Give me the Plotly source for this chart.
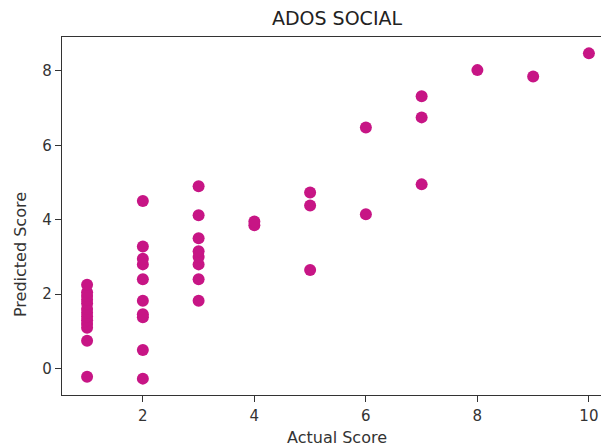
import plotly.graph_objects as go

actual = [1]*13 + [2]*10 + [3]*8 + [4]*2 + [5]*3 + [6]*2 + [7]*3 + [8, 9, 10]
predicted = [
    -0.22, 0.75, 1.1, 1.2, 1.3, 1.4, 1.5, 1.6, 1.75, 1.85, 1.95, 2.05, 2.25,
    -0.27, 0.5, 1.38, 1.46, 1.82, 2.4, 2.8, 2.95, 3.28, 4.5,
    1.82, 2.4, 2.8, 3.0, 3.15, 3.5, 4.12, 4.9,
    3.85, 3.95,
    2.65, 4.38, 4.73,
    4.15, 6.48,
    4.95, 6.75, 7.32,
    8.02, 7.85, 8.47,
]
x_ticks = [2, 4, 6, 8, 10]
y_ticks = [0, 2, 4, 6, 8]

# page body has an 8px margin, so the figure is laid out 8px up/left
L, R, T, B = 54, 3, 29, 61
W, H = 609, 448
pw, ph = W - L - R, H - T - B

fig = go.Figure(go.Scatter(
    x=actual, y=predicted, mode="markers",
    marker=dict(color="#c71585", size=12, line=dict(width=0)),
))

axis_common = dict(
    showgrid=False, zeroline=False, showline=True, linecolor="#333",
    linewidth=1.2, ticks="outside", ticklen=6, tickcolor="#333", tickwidth=1,
    automargin=False,
    tickfont=dict(family="DejaVu Sans", size=15, color="#333"),
)
fig.update_layout(
    width=W, height=H,
    margin=dict(l=L, r=R, t=T, b=B, autoexpand=False),
    paper_bgcolor="white", plot_bgcolor="white",
    showlegend=False,
    title=dict(text="ADOS SOCIAL", x=329 / W, xanchor="center",
               y=1 - 10 / H, yanchor="middle",
               font=dict(family="DejaVu Sans", size=19, color="#222")),
    xaxis=dict(range=[0.55, 10.45], tickvals=x_ticks, mirror=True,
               ticklabelstandoff=1, **axis_common),
    yaxis=dict(range=[-0.71, 8.91], tickvals=y_ticks, **axis_common),
    annotations=[
        dict(text="Actual Score", xref="paper", yref="paper",
             x=(329 - L) / pw, y=(H - B - 429) / ph,
             xanchor="center", yanchor="middle", showarrow=False,
             font=dict(family="DejaVu Sans", size=16, color="#333")),
        dict(text="Predicted Score", xref="paper", yref="paper",
             x=(12 - L) / pw, y=(H - B - 247) / ph, textangle=-90,
             xanchor="center", yanchor="middle", showarrow=False,
             font=dict(family="DejaVu Sans", size=16, color="#333")),
    ],
)
fig.write_html("out.html")
